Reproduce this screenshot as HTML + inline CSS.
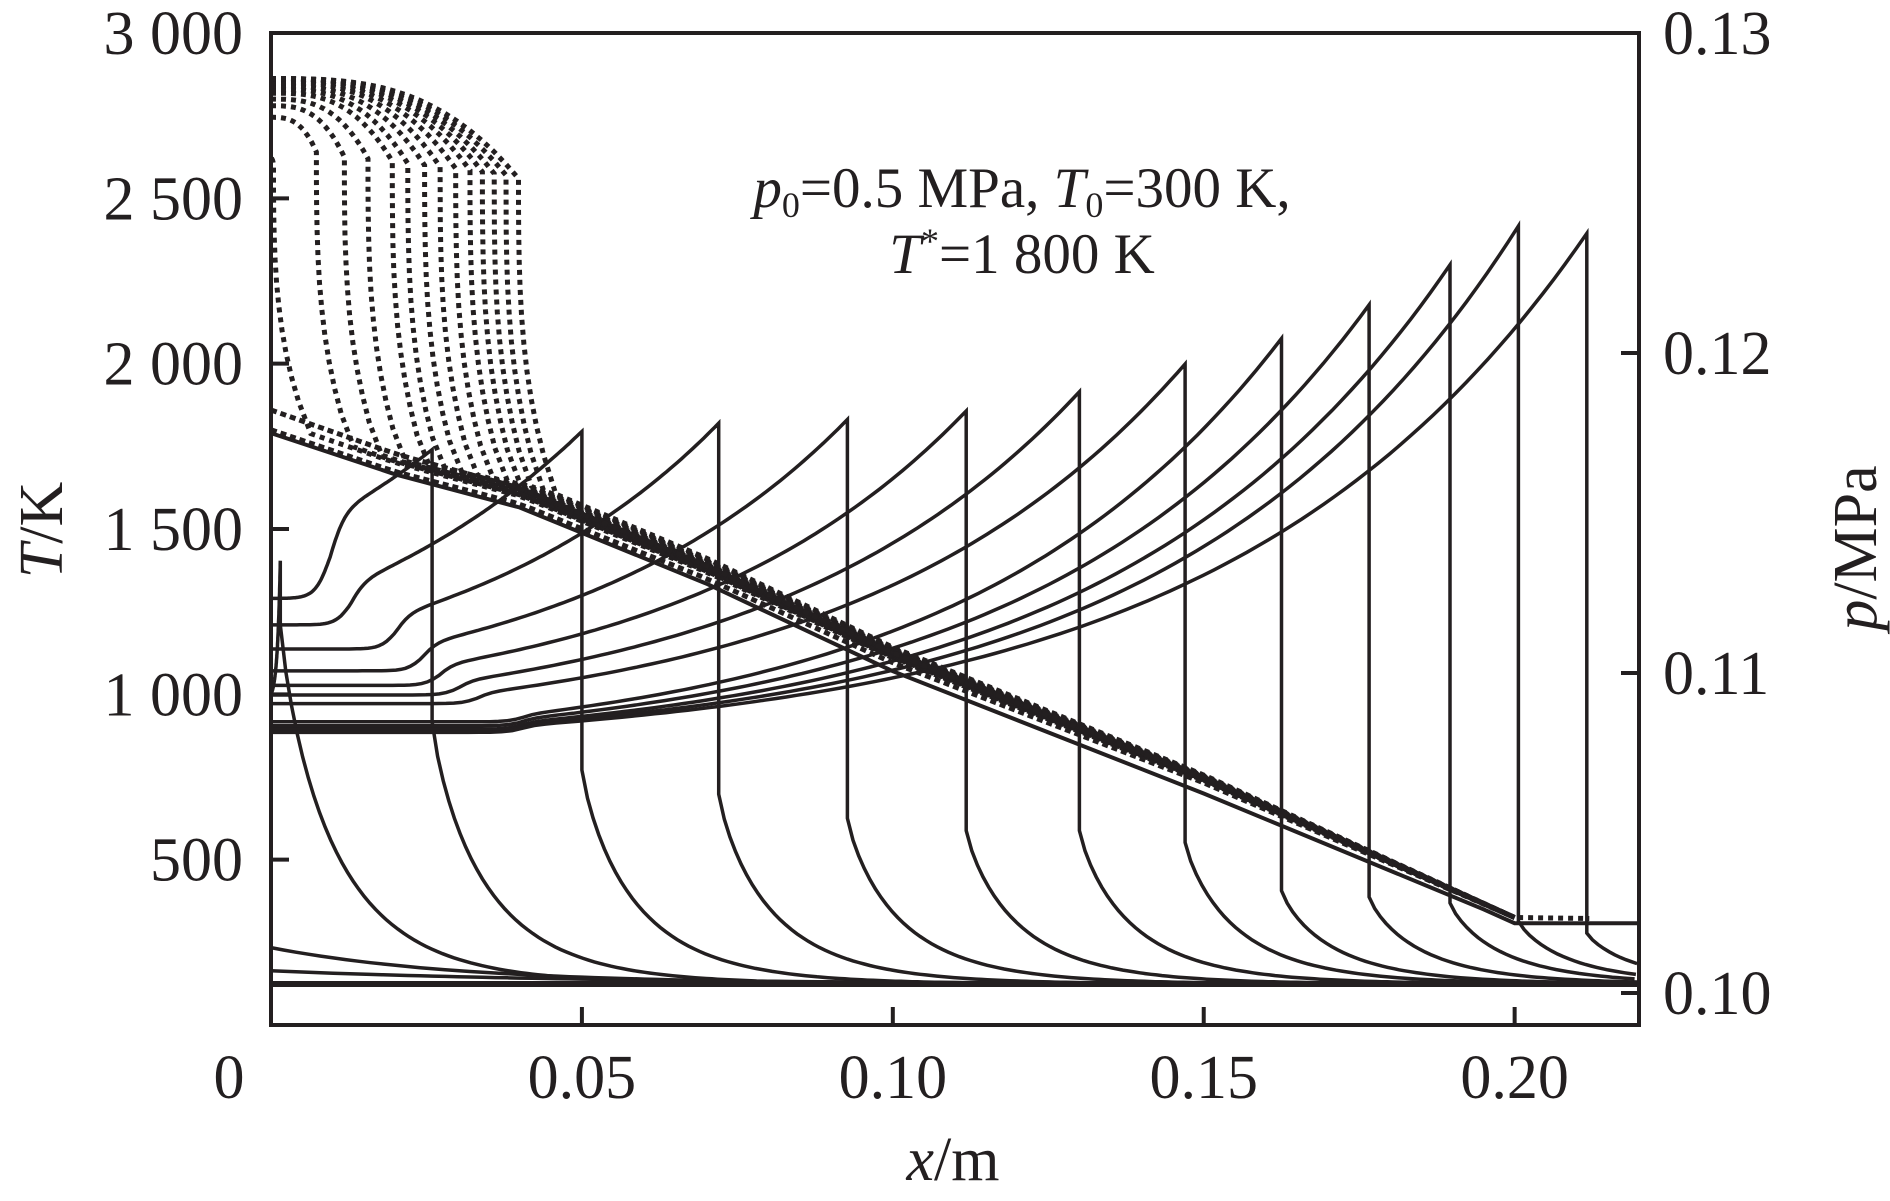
<!DOCTYPE html>
<html><head><meta charset="utf-8"><style>
html,body{margin:0;padding:0;background:#fff}
svg{display:block}
text{font-family:"Liberation Serif",serif;fill:#231f20}
</style></head><body>
<svg id="chart" width="1890" height="1201" viewBox="0 0 1890 1201" xmlns="http://www.w3.org/2000/svg">
<g id="marks"></g>
<g id="axes"></g>
<text x="1022" y="207" font-size="57" text-anchor="middle"><tspan font-style="italic">p</tspan><tspan font-size="36" dy="10">0</tspan><tspan dy="-10">=0.5 MPa, </tspan><tspan font-style="italic">T</tspan><tspan font-size="36" dy="10">0</tspan><tspan dy="-10">=300 K,</tspan></text>
<text x="1022" y="273" font-size="57" text-anchor="middle"><tspan font-style="italic">T</tspan><tspan font-size="36" dy="-20">*</tspan><tspan dy="20">=1 800 K</tspan></text>
<text x="953" y="1180" font-size="62" text-anchor="middle"><tspan font-style="italic">x</tspan>/m</text>
<text transform="translate(62,530) rotate(-90)" font-size="62" text-anchor="middle"><tspan font-style="italic">T</tspan>/K</text>
<text transform="translate(1876,548) rotate(-90)" font-size="62" text-anchor="middle"><tspan font-style="italic">p</tspan>/MPa</text>
</svg>
<script>
// ---- data ----
const xTicks=[0.05,0.10,0.15,0.20];
const xTickLabels=["0.05","0.10","0.15","0.20"];
const tTicks=[500,1000,1500,2000,2500,3000];
const tTickLabels=["500","1 000","1 500","2 000","2 500","3 000"];
const pTicks=[0.10,0.11,0.12,0.13];
const pTickLabels=["0.10","0.11","0.12","0.13"];
// solid temperature pulses
const peakX=[0.0015,0.0259,0.050,0.072,0.0927,0.1118,0.130,0.147,0.1625,0.1766,0.1896,0.2006,0.2116];
const peakT=[1404,1740,1795,1820,1831,1857,1915,1999,2076,2178,2299,2416,2394];
const startT=[1000,1290,1210,1137,1071,1027,998,972,917,905,895,890,885];
const kinkX=[0,0.0095,0.0127,0.020,0.0243,0.027,0.030,0.033,0.040,0.040,0.040,0.040,0.040];
const kinkH=[0,250,120,100,80,60,40,30,20,20,20,20,20];
const riseK=[3,0.4,0.8,1.2,1.5,1.8,2.0,2.2,2.4,2.6,2.8,3.0,3.0];
const dropT=[1210,917,771,698,625,588,588,552,406,387,369,314,278];
const baseT=124;
// dotted pressure family
const dotDropX=[0.0004,0.0073,0.0118,0.0156,0.0195,0.0220,0.0247,0.0272,0.0297,0.0320,0.0340,0.0359,0.0378,0.0398];
const dotTopT=[2620,2745,2780,2800,2818,2830,2840,2850,2855,2860,2862,2862,2862,2862];
const dotKneeT=[2600,2640,2625,2620,2612,2605,2600,2595,2590,2585,2580,2575,2570,2560];
const bandX=[0,0.02,0.04,0.07,0.10,0.15,0.20];
const bandT=[1830,1700,1600,1370,1110,740,325];
const dotStartT=[1860,1800];
// solid pressure line
const presX=[0,0.02,0.04,0.07,0.10,0.15,0.195,0.20,0.22];
const presT=[1790,1665,1565,1335,1070,700,350,308,308];
// low lines near baseline
const lowStartT=[234,164];
const lowDecay=[0.03,0.05];

// ---- axes functions ----
const X0=271,X1=1639,Y0=1025,Y1=33,XMAX=0.22;
const sx=x=>X0+x/XMAX*(X1-X0);
const sy=t=>Y0-t/3000*(Y0-Y1);
const sp=p=>993-(p-0.10)/0.03*(993-Y1);
const NS="http://www.w3.org/2000/svg";
const marks=document.getElementById('marks');
const axes=document.getElementById('axes');
function mk(tag,parent){const e=document.createElementNS(NS,tag);parent.appendChild(e);return e;}
function interp(xs,ys,x){if(x<=xs[0])return ys[0];for(let i=1;i<xs.length;i++){if(x<=xs[i]){const f=(x-xs[i-1])/(xs[i]-xs[i-1]);return ys[i-1]+f*(ys[i]-ys[i-1]);}}return ys[ys.length-1];}
function pathFrom(pts){return pts.map((p,i)=>(i?'L':'M')+sx(p[0]).toFixed(1)+','+sy(p[1]).toFixed(1)).join('');}

// solid pulses
for(let i=0;i<peakX.length;i++){
  const pts=[];const xp=peakX[i],Ts=startT[i],Tp=peakT[i],xk=kinkX[i],H=kinkH[i],k=riseK[i];
  const N=120;
  for(let j=0;j<=N;j++){
    const x=xp*j/N;
    let step=H>0?H/(1+Math.exp(-(x-xk)/0.0012)):0;
    let u=Math.max(0,(x-xk)/(xp-xk||1));
    if(xk===0)u=x/xp;
    const rise=(Math.exp(k*u)-1)/(Math.exp(k)-1);
    pts.push([x,Ts+step+(Tp-Ts-H)*rise]);
  }
  pts.push([xp,Tp]);
  const L=0.009;
  for(let j=0;j<=80;j++){
    const x=xp+j*0.0009;if(x>XMAX)break;
    pts.push([x,baseT+(dropT[i]-baseT)*Math.exp(-Math.pow((x-xp)/L,0.85))]);
  }
  const el=mk('path',marks);
  
  
  el.setAttribute('d',pathFrom(pts));
  el.setAttribute('fill','none');el.setAttribute('stroke','#231f20');el.setAttribute('stroke-width','3.5');
}
// low lines
for(let i=0;i<lowStartT.length;i++){
  const pts=[];for(let j=0;j<=110;j++){const x=j*0.002;pts.push([x,baseT+(lowStartT[i]-baseT)*Math.exp(-x/lowDecay[i])]);}
  const el=mk('path',marks);
  
  
  el.setAttribute('d',pathFrom(pts));el.setAttribute('fill','none');el.setAttribute('stroke','#231f20');el.setAttribute('stroke-width','3.5');
}
{const el=mk('path',marks);


el.setAttribute('d',pathFrom([[0,baseT],[XMAX,baseT]]));el.setAttribute('stroke','#231f20');el.setAttribute('stroke-width','6');}
// solid pressure line
{const pts=presX.map((x,i)=>[x,presT[i]]);const el=mk('path',marks);


el.setAttribute('d',pathFrom(pts));el.setAttribute('fill','none');el.setAttribute('stroke','#231f20');el.setAttribute('stroke-width','4');}
// dotted family
for(let i=0;i<dotDropX.length;i++){
  const xd=dotDropX[i],off=i*5;const pts=[];
  for(let j=0;j<=20;j++){const f=j/20;const x=xd*f;pts.push([x,dotTopT[i]+(dotKneeT[i]-dotTopT[i])*Math.pow(f,3)]);}
  const tb=interp(bandX,bandT,xd)+off;
  for(let j=1;j<=10;j++){const f=j/10;pts.push([xd+0.004*Math.pow(f,3),dotKneeT[i]+(tb+60-dotKneeT[i])*f]);}
  for(let x=xd+0.006;x<=0.2;x+=0.003)pts.push([x,interp(bandX,bandT,x)+off*(1-x/0.2)]);
  pts.push([0.2,325]);
  if(i===dotDropX.length-1)pts.push([0.212,322]);
  const el=mk('path',marks);
  
  
  el.setAttribute('d',pathFrom(pts));el.setAttribute('fill','none');el.setAttribute('stroke','#231f20');el.setAttribute('stroke-width','5');el.setAttribute('stroke-dasharray','5 5');
}
for(let i=0;i<dotStartT.length;i++){
  const pts=[];const d=dotStartT[i]-bandT[0];
  for(let x=0;x<=0.2;x+=0.003)pts.push([x,interp(bandX,bandT,x)+d*(1-x/0.2)]);
  const el=mk('path',marks);
  
  
  el.setAttribute('d',pathFrom(pts));el.setAttribute('fill','none');el.setAttribute('stroke','#231f20');el.setAttribute('stroke-width','5');el.setAttribute('stroke-dasharray','6 4');
}
// frame
{const r=mk('rect',axes);


r.setAttribute('x',X0);r.setAttribute('y',Y1);r.setAttribute('width',X1-X0);r.setAttribute('height',Y0-Y1);r.setAttribute('fill','none');r.setAttribute('stroke','#231f20');r.setAttribute('stroke-width','4');}
function tick(x1,y1,x2,y2,name){const l=mk('line',axes);


l.setAttribute('x1',x1);l.setAttribute('y1',y1);l.setAttribute('x2',x2);l.setAttribute('y2',y2);l.setAttribute('stroke','#231f20');l.setAttribute('stroke-width','4');}
function label(x,y,s,anchor,name){const t=mk('text',axes);


t.setAttribute('x',x);t.setAttribute('y',y);t.setAttribute('font-size','62');t.setAttribute('text-anchor',anchor);t.textContent=s;}
xTicks.forEach((v,i)=>{tick(sx(v),Y0,sx(v),Y0-18,'x-tick');label(sx(v),1098,xTickLabels[i],'middle','x-tick-label');});
label(229,1098,'0','middle','x-origin-label');
tTicks.forEach((v,i)=>{if(v<3000)tick(X0,sy(v),X0+18,sy(v),'y-tick-left');label(243,sy(v)+21,tTickLabels[i],'end','y-tick-label-left');});
pTicks.forEach((v,i)=>{if(v<0.13)tick(X1,sp(v),X1-18,sp(v),'y-tick-right');label(1663,sp(v)+21,pTickLabels[i],'start','y-tick-label-right');});
</script>
</body></html>
